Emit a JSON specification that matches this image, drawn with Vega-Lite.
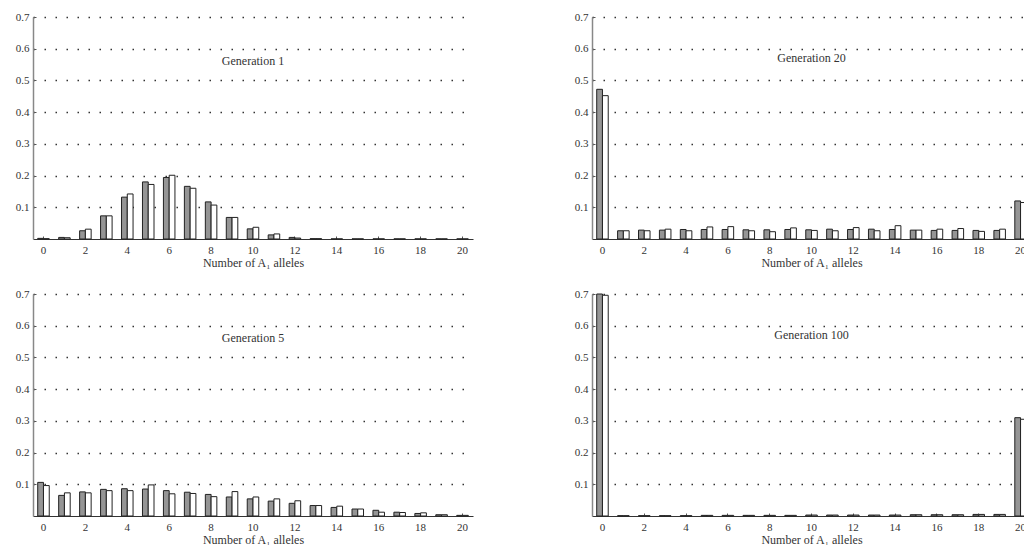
{
  "$schema": "https://vega.github.io/schema/vega-lite/v6.json",
  "background": "#ffffff",
  "padding": {"left": 15, "top": 11, "right": 0, "bottom": 0},
  "config": {
    "view": {"stroke": null},
    "font": "Liberation Serif",
    "axis": {
      "labelFont": "Liberation Serif",
      "labelFontSize": 11,
      "labelColor": "#333333",
      "labelOverlap": false,
      "titleFont": "Liberation Serif",
      "titleFontSize": 12,
      "titleFontWeight": "normal",
      "titleColor": "#333333",
      "tickColor": "#555555",
      "tickSize": -3
    },
    "axisX": {"labelPadding": 8, "titlePadding": 2, "labelAngle": 0, "domainColor": "#333333", "domainWidth": 1.2},
    "axisY": {"labelPadding": 7, "domainColor": "#888888", "domainWidth": 1.5, "grid": true, "gridDash": [1.5, 9.5], "gridColor": "#333333", "gridWidth": 1.3}
  },
  "datasets": {
    "freq": [
      {"g":1,"n":0,"s":"a","p":0.002},{"g":1,"n":0,"s":"b","p":0.001},
      {"g":1,"n":1,"s":"a","p":0.005},{"g":1,"n":1,"s":"b","p":0.004},
      {"g":1,"n":2,"s":"a","p":0.026},{"g":1,"n":2,"s":"b","p":0.031},
      {"g":1,"n":3,"s":"a","p":0.073},{"g":1,"n":3,"s":"b","p":0.073},
      {"g":1,"n":4,"s":"a","p":0.132},{"g":1,"n":4,"s":"b","p":0.142},
      {"g":1,"n":5,"s":"a","p":0.180},{"g":1,"n":5,"s":"b","p":0.172},
      {"g":1,"n":6,"s":"a","p":0.194},{"g":1,"n":6,"s":"b","p":0.201},
      {"g":1,"n":7,"s":"a","p":0.166},{"g":1,"n":7,"s":"b","p":0.160},
      {"g":1,"n":8,"s":"a","p":0.117},{"g":1,"n":8,"s":"b","p":0.107},
      {"g":1,"n":9,"s":"a","p":0.068},{"g":1,"n":9,"s":"b","p":0.068},
      {"g":1,"n":10,"s":"a","p":0.032},{"g":1,"n":10,"s":"b","p":0.037},
      {"g":1,"n":11,"s":"a","p":0.013},{"g":1,"n":11,"s":"b","p":0.016},
      {"g":1,"n":12,"s":"a","p":0.005},{"g":1,"n":12,"s":"b","p":0.003},
      {"g":1,"n":13,"s":"a","p":0.001},{"g":1,"n":13,"s":"b","p":0.001},
      {"g":1,"n":14,"s":"a","p":0.0003},{"g":1,"n":14,"s":"b","p":0.0003},
      {"g":1,"n":15,"s":"a","p":0.0003},{"g":1,"n":15,"s":"b","p":0.0003},
      {"g":1,"n":16,"s":"a","p":0.0003},{"g":1,"n":16,"s":"b","p":0.0003},
      {"g":1,"n":17,"s":"a","p":0.0003},{"g":1,"n":17,"s":"b","p":0.0003},
      {"g":1,"n":18,"s":"a","p":0.0003},{"g":1,"n":18,"s":"b","p":0.0003},
      {"g":1,"n":19,"s":"a","p":0.0003},{"g":1,"n":19,"s":"b","p":0.0003},
      {"g":1,"n":20,"s":"a","p":0.0003},{"g":1,"n":20,"s":"b","p":0.0003},

      {"g":5,"n":0,"s":"a","p":0.106},{"g":5,"n":0,"s":"b","p":0.096},
      {"g":5,"n":1,"s":"a","p":0.065},{"g":5,"n":1,"s":"b","p":0.073},
      {"g":5,"n":2,"s":"a","p":0.076},{"g":5,"n":2,"s":"b","p":0.073},
      {"g":5,"n":3,"s":"a","p":0.084},{"g":5,"n":3,"s":"b","p":0.080},
      {"g":5,"n":4,"s":"a","p":0.086},{"g":5,"n":4,"s":"b","p":0.080},
      {"g":5,"n":5,"s":"a","p":0.085},{"g":5,"n":5,"s":"b","p":0.098},
      {"g":5,"n":6,"s":"a","p":0.080},{"g":5,"n":6,"s":"b","p":0.070},
      {"g":5,"n":7,"s":"a","p":0.075},{"g":5,"n":7,"s":"b","p":0.071},
      {"g":5,"n":8,"s":"a","p":0.068},{"g":5,"n":8,"s":"b","p":0.061},
      {"g":5,"n":9,"s":"a","p":0.060},{"g":5,"n":9,"s":"b","p":0.077},
      {"g":5,"n":10,"s":"a","p":0.054},{"g":5,"n":10,"s":"b","p":0.060},
      {"g":5,"n":11,"s":"a","p":0.047},{"g":5,"n":11,"s":"b","p":0.054},
      {"g":5,"n":12,"s":"a","p":0.040},{"g":5,"n":12,"s":"b","p":0.048},
      {"g":5,"n":13,"s":"a","p":0.033},{"g":5,"n":13,"s":"b","p":0.033},
      {"g":5,"n":14,"s":"a","p":0.027},{"g":5,"n":14,"s":"b","p":0.031},
      {"g":5,"n":15,"s":"a","p":0.022},{"g":5,"n":15,"s":"b","p":0.022},
      {"g":5,"n":16,"s":"a","p":0.018},{"g":5,"n":16,"s":"b","p":0.012},
      {"g":5,"n":17,"s":"a","p":0.012},{"g":5,"n":17,"s":"b","p":0.011},
      {"g":5,"n":18,"s":"a","p":0.008},{"g":5,"n":18,"s":"b","p":0.010},
      {"g":5,"n":19,"s":"a","p":0.004},{"g":5,"n":19,"s":"b","p":0.004},
      {"g":5,"n":20,"s":"a","p":0.002},{"g":5,"n":20,"s":"b","p":0.002},

      {"g":20,"n":0,"s":"a","p":0.472},{"g":20,"n":0,"s":"b","p":0.452},
      {"g":20,"n":1,"s":"a","p":0.026},{"g":20,"n":1,"s":"b","p":0.026},
      {"g":20,"n":2,"s":"a","p":0.028},{"g":20,"n":2,"s":"b","p":0.026},
      {"g":20,"n":3,"s":"a","p":0.028},{"g":20,"n":3,"s":"b","p":0.031},
      {"g":20,"n":4,"s":"a","p":0.030},{"g":20,"n":4,"s":"b","p":0.026},
      {"g":20,"n":5,"s":"a","p":0.030},{"g":20,"n":5,"s":"b","p":0.038},
      {"g":20,"n":6,"s":"a","p":0.030},{"g":20,"n":6,"s":"b","p":0.039},
      {"g":20,"n":7,"s":"a","p":0.029},{"g":20,"n":7,"s":"b","p":0.026},
      {"g":20,"n":8,"s":"a","p":0.029},{"g":20,"n":8,"s":"b","p":0.023},
      {"g":20,"n":9,"s":"a","p":0.030},{"g":20,"n":9,"s":"b","p":0.035},
      {"g":20,"n":10,"s":"a","p":0.029},{"g":20,"n":10,"s":"b","p":0.027},
      {"g":20,"n":11,"s":"a","p":0.031},{"g":20,"n":11,"s":"b","p":0.026},
      {"g":20,"n":12,"s":"a","p":0.030},{"g":20,"n":12,"s":"b","p":0.036},
      {"g":20,"n":13,"s":"a","p":0.031},{"g":20,"n":13,"s":"b","p":0.026},
      {"g":20,"n":14,"s":"a","p":0.030},{"g":20,"n":14,"s":"b","p":0.042},
      {"g":20,"n":15,"s":"a","p":0.028},{"g":20,"n":15,"s":"b","p":0.028},
      {"g":20,"n":16,"s":"a","p":0.027},{"g":20,"n":16,"s":"b","p":0.031},
      {"g":20,"n":17,"s":"a","p":0.027},{"g":20,"n":17,"s":"b","p":0.033},
      {"g":20,"n":18,"s":"a","p":0.027},{"g":20,"n":18,"s":"b","p":0.024},
      {"g":20,"n":19,"s":"a","p":0.027},{"g":20,"n":19,"s":"b","p":0.031},
      {"g":20,"n":20,"s":"a","p":0.120},{"g":20,"n":20,"s":"b","p":0.115},

      {"g":100,"n":0,"s":"a","p":0.700},{"g":100,"n":0,"s":"b","p":0.696},
      {"g":100,"n":1,"s":"a","p":0.001},{"g":100,"n":1,"s":"b","p":0.001},
      {"g":100,"n":2,"s":"a","p":0.001},{"g":100,"n":2,"s":"b","p":0.001},
      {"g":100,"n":3,"s":"a","p":0.001},{"g":100,"n":3,"s":"b","p":0.001},
      {"g":100,"n":4,"s":"a","p":0.001},{"g":100,"n":4,"s":"b","p":0.001},
      {"g":100,"n":5,"s":"a","p":0.002},{"g":100,"n":5,"s":"b","p":0.002},
      {"g":100,"n":6,"s":"a","p":0.002},{"g":100,"n":6,"s":"b","p":0.002},
      {"g":100,"n":7,"s":"a","p":0.002},{"g":100,"n":7,"s":"b","p":0.002},
      {"g":100,"n":8,"s":"a","p":0.002},{"g":100,"n":8,"s":"b","p":0.002},
      {"g":100,"n":9,"s":"a","p":0.002},{"g":100,"n":9,"s":"b","p":0.002},
      {"g":100,"n":10,"s":"a","p":0.003},{"g":100,"n":10,"s":"b","p":0.003},
      {"g":100,"n":11,"s":"a","p":0.003},{"g":100,"n":11,"s":"b","p":0.003},
      {"g":100,"n":12,"s":"a","p":0.003},{"g":100,"n":12,"s":"b","p":0.003},
      {"g":100,"n":13,"s":"a","p":0.003},{"g":100,"n":13,"s":"b","p":0.003},
      {"g":100,"n":14,"s":"a","p":0.003},{"g":100,"n":14,"s":"b","p":0.003},
      {"g":100,"n":15,"s":"a","p":0.004},{"g":100,"n":15,"s":"b","p":0.004},
      {"g":100,"n":16,"s":"a","p":0.004},{"g":100,"n":16,"s":"b","p":0.004},
      {"g":100,"n":17,"s":"a","p":0.004},{"g":100,"n":17,"s":"b","p":0.004},
      {"g":100,"n":18,"s":"a","p":0.005},{"g":100,"n":18,"s":"b","p":0.005},
      {"g":100,"n":19,"s":"a","p":0.005},{"g":100,"n":19,"s":"b","p":0.005},
      {"g":100,"n":20,"s":"a","p":0.310},{"g":100,"n":20,"s":"b","p":0.305}
    ]
  },
  "data": {"name": "freq"},
  "columns": 2,
  "bounds": "flush",
  "spacing": {"row": 55, "column": 119},
  "concat": [
    {
      "width": 440, "height": 222,
      "layer": [
        {
          "transform": [{"filter": "datum.g == 1"}],
          "mark": {"type": "bar", "stroke": "#222222", "strokeWidth": 1},
          "encoding": {
            "x": {"field": "n", "type": "ordinal", "title": "Number of A₁ alleles", "axis": {"values": [0,2,4,6,8,10,12,14,16,18,20]}, "scale": {"domain": [0,1,2,3,4,5,6,7,8,9,10,11,12,13,14,15,16,17,18,19,20], "paddingInner": 0.45, "paddingOuter": 0.225}},
            "xOffset": {"field": "s", "type": "nominal", "scale": {"domain": ["a","b"], "paddingInner": 0}},
            "y": {"field": "p", "type": "quantitative", "title": null, "axis": {"values": [0.1,0.2,0.3,0.4,0.5,0.6,0.7], "format": ".1f"}, "scale": {"domain": [0, 0.7], "nice": false}},
            "fill": {"field": "s", "type": "nominal", "scale": {"domain": ["a","b"], "range": ["#959595", "#ffffff"]}, "legend": null}
          }
        },
        {
          "data": {"values": [{"label": "Generation 1"}]},
          "mark": {"type": "text", "font": "Liberation Serif", "fontSize": 12, "color": "#333333"},
          "encoding": {"x": {"datum": 10, "type": "ordinal", "title": "Number of A₁ alleles", "axis": {"values": [0,2,4,6,8,10,12,14,16,18,20]}}, "y": {"datum": 0.56, "type": "quantitative", "title": null, "axis": {"values": [0.1,0.2,0.3,0.4,0.5,0.6,0.7], "format": ".1f"}}, "text": {"field": "label"}}
        }
      ]
    },
    {
      "width": 439, "height": 222,
      "layer": [
        {
          "transform": [{"filter": "datum.g == 20"}],
          "mark": {"type": "bar", "stroke": "#222222", "strokeWidth": 1},
          "encoding": {
            "x": {"field": "n", "type": "ordinal", "title": "Number of A₁ alleles", "axis": {"values": [0,2,4,6,8,10,12,14,16,18,20]}, "scale": {"domain": [0,1,2,3,4,5,6,7,8,9,10,11,12,13,14,15,16,17,18,19,20], "paddingInner": 0.45, "paddingOuter": 0.225}},
            "xOffset": {"field": "s", "type": "nominal", "scale": {"domain": ["a","b"], "paddingInner": 0}},
            "y": {"field": "p", "type": "quantitative", "title": null, "axis": {"values": [0.1,0.2,0.3,0.4,0.5,0.6,0.7], "format": ".1f"}, "scale": {"domain": [0, 0.7], "nice": false}},
            "fill": {"field": "s", "type": "nominal", "scale": {"domain": ["a","b"], "range": ["#959595", "#ffffff"]}, "legend": null}
          }
        },
        {
          "data": {"values": [{"label": "Generation 20"}]},
          "mark": {"type": "text", "font": "Liberation Serif", "fontSize": 12, "color": "#333333"},
          "encoding": {"x": {"datum": 10, "type": "ordinal", "title": "Number of A₁ alleles", "axis": {"values": [0,2,4,6,8,10,12,14,16,18,20]}}, "y": {"datum": 0.57, "type": "quantitative", "title": null, "axis": {"values": [0.1,0.2,0.3,0.4,0.5,0.6,0.7], "format": ".1f"}}, "text": {"field": "label"}}
        }
      ]
    },
    {
      "width": 440, "height": 222,
      "layer": [
        {
          "transform": [{"filter": "datum.g == 5"}],
          "mark": {"type": "bar", "stroke": "#222222", "strokeWidth": 1},
          "encoding": {
            "x": {"field": "n", "type": "ordinal", "title": "Number of A₁ alleles", "axis": {"values": [0,2,4,6,8,10,12,14,16,18,20]}, "scale": {"domain": [0,1,2,3,4,5,6,7,8,9,10,11,12,13,14,15,16,17,18,19,20], "paddingInner": 0.45, "paddingOuter": 0.225}},
            "xOffset": {"field": "s", "type": "nominal", "scale": {"domain": ["a","b"], "paddingInner": 0}},
            "y": {"field": "p", "type": "quantitative", "title": null, "axis": {"values": [0.1,0.2,0.3,0.4,0.5,0.6,0.7], "format": ".1f"}, "scale": {"domain": [0, 0.7], "nice": false}},
            "fill": {"field": "s", "type": "nominal", "scale": {"domain": ["a","b"], "range": ["#959595", "#ffffff"]}, "legend": null}
          }
        },
        {
          "data": {"values": [{"label": "Generation 5"}]},
          "mark": {"type": "text", "font": "Liberation Serif", "fontSize": 12, "color": "#333333"},
          "encoding": {"x": {"datum": 10, "type": "ordinal", "title": "Number of A₁ alleles", "axis": {"values": [0,2,4,6,8,10,12,14,16,18,20]}}, "y": {"datum": 0.56, "type": "quantitative", "title": null, "axis": {"values": [0.1,0.2,0.3,0.4,0.5,0.6,0.7], "format": ".1f"}}, "text": {"field": "label"}}
        }
      ]
    },
    {
      "width": 439, "height": 222,
      "layer": [
        {
          "transform": [{"filter": "datum.g == 100"}],
          "mark": {"type": "bar", "stroke": "#222222", "strokeWidth": 1},
          "encoding": {
            "x": {"field": "n", "type": "ordinal", "title": "Number of A₁ alleles", "axis": {"values": [0,2,4,6,8,10,12,14,16,18,20]}, "scale": {"domain": [0,1,2,3,4,5,6,7,8,9,10,11,12,13,14,15,16,17,18,19,20], "paddingInner": 0.45, "paddingOuter": 0.225}},
            "xOffset": {"field": "s", "type": "nominal", "scale": {"domain": ["a","b"], "paddingInner": 0}},
            "y": {"field": "p", "type": "quantitative", "title": null, "axis": {"values": [0.1,0.2,0.3,0.4,0.5,0.6,0.7], "format": ".1f"}, "scale": {"domain": [0, 0.7], "nice": false}},
            "fill": {"field": "s", "type": "nominal", "scale": {"domain": ["a","b"], "range": ["#959595", "#ffffff"]}, "legend": null}
          }
        },
        {
          "data": {"values": [{"label": "Generation 100"}]},
          "mark": {"type": "text", "font": "Liberation Serif", "fontSize": 12, "color": "#333333"},
          "encoding": {"x": {"datum": 10, "type": "ordinal", "title": "Number of A₁ alleles", "axis": {"values": [0,2,4,6,8,10,12,14,16,18,20]}}, "y": {"datum": 0.57, "type": "quantitative", "title": null, "axis": {"values": [0.1,0.2,0.3,0.4,0.5,0.6,0.7], "format": ".1f"}}, "text": {"field": "label"}}
        }
      ]
    }
  ]
}
